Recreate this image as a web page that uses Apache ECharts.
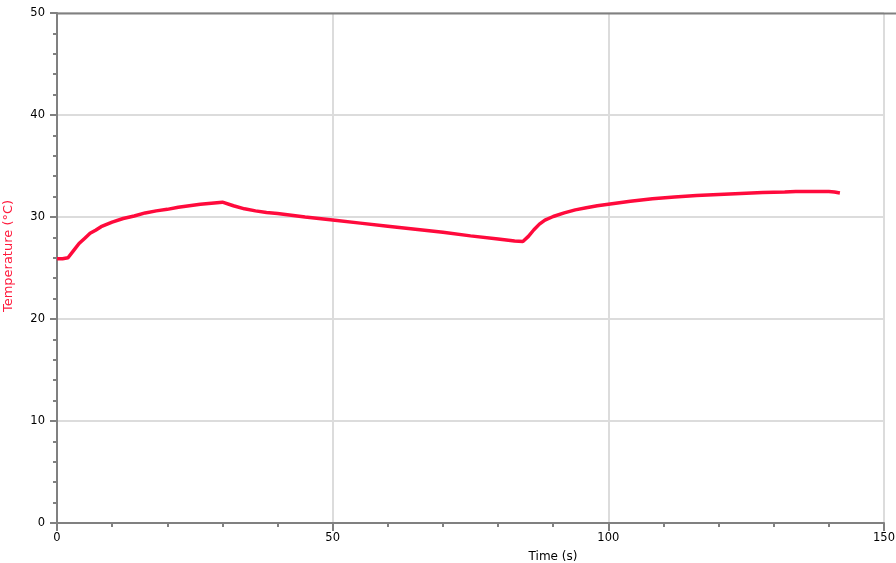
<!DOCTYPE html>
<html>
<head>
<meta charset="utf-8">
<script src="https://cdn.jsdelivr.net/npm/echarts@6/dist/echarts.min.js"></script>
<style>html,body{margin:0;padding:0;background:#fff;}#c{width:896px;height:563px;}</style>
</head>
<body>
<div id="c"></div>
<script>
const timeS = [0,1,2,3,4,5,6,7,8,10,12,14,16,18,20,22,24,26,28,30,32,34,36,38,40,45,50,55,60,65,70,75,80,83,84.5,85.5,86.5,87.5,88.5,90,92,94,96,98,100,104,108,112,116,120,124,128,132,134,137,140,141,142];
const tempC = [25.9,25.9,26.0,26.7,27.4,27.9,28.4,28.7,29.05,29.5,29.85,30.1,30.4,30.6,30.75,30.95,31.1,31.25,31.35,31.45,31.1,30.8,30.6,30.45,30.35,30.0,29.7,29.4,29.1,28.8,28.5,28.15,27.85,27.65,27.6,28.1,28.75,29.3,29.7,30.05,30.4,30.7,30.9,31.1,31.25,31.55,31.8,31.95,32.1,32.2,32.3,32.4,32.45,32.5,32.5,32.5,32.45,32.35];
const xTitle = 'Time (s)';
const yTitle = 'Temperature (°C)';

const FONT = '"DejaVu Sans", "Liberation Sans", sans-serif';
const chart = echarts.init(document.getElementById('c'), null, {renderer:'canvas'});
const axisGray = '#808080';
chart.setOption({
  animation:false,
  grid:{left:57,right:12,top:13,bottom:40,containLabel:false,outerBoundsMode:'none'},
  graphic:[
    {type:'line', shape:{x1:57,y1:13.5,x2:896,y2:13.5}, style:{stroke:axisGray,lineWidth:2}, z:10},
    {type:'text', x:553, y:557, style:{text:xTitle, fill:'#000', font:'12px ' + FONT, align:'center', verticalAlign:'middle'}},
    {type:'text', x:9, y:256, rotation:Math.PI/2, style:{text:yTitle, fill:'#ff1a3c', font:'13px ' + FONT, align:'center', verticalAlign:'middle'}}
  ],
  xAxis:{
    type:'value', min:0, max:150, interval:50,
    axisLine:{show:true,onZero:false,lineStyle:{color:axisGray,width:2}},
    axisTick:{show:true,inside:false,length:8,lineStyle:{color:axisGray,width:2}},
    minorTick:{show:true,splitNumber:5,length:4,lineStyle:{color:axisGray,width:2}},
    axisLabel:{color:'#000',fontSize:11.5,margin:9,fontFamily:FONT},
    splitLine:{show:true,lineStyle:{color:'#dcdcdc',width:2}}
  },
  yAxis:{
    type:'value', min:0, max:50, interval:10,
    axisLine:{show:true,onZero:false,lineStyle:{color:axisGray,width:2}},
    axisTick:{show:true,inside:false,length:7,lineStyle:{color:axisGray,width:2}},
    minorTick:{show:true,splitNumber:5,length:4,lineStyle:{color:axisGray,width:2}},
    axisLabel:{color:'#000',fontSize:11.5,margin:12,fontFamily:FONT},
    splitLine:{show:true,lineStyle:{color:'#dcdcdc',width:2}}
  },
  series:[{
    type:'line', data:timeS.map((t,i)=>[t,tempC[i]]),
    showSymbol:false, symbol:'none',
    lineStyle:{color:'#ff0a3c',width:3.5},
    itemStyle:{color:'#ff0a3c'}
  }]
});
</script>
</body>
</html>
